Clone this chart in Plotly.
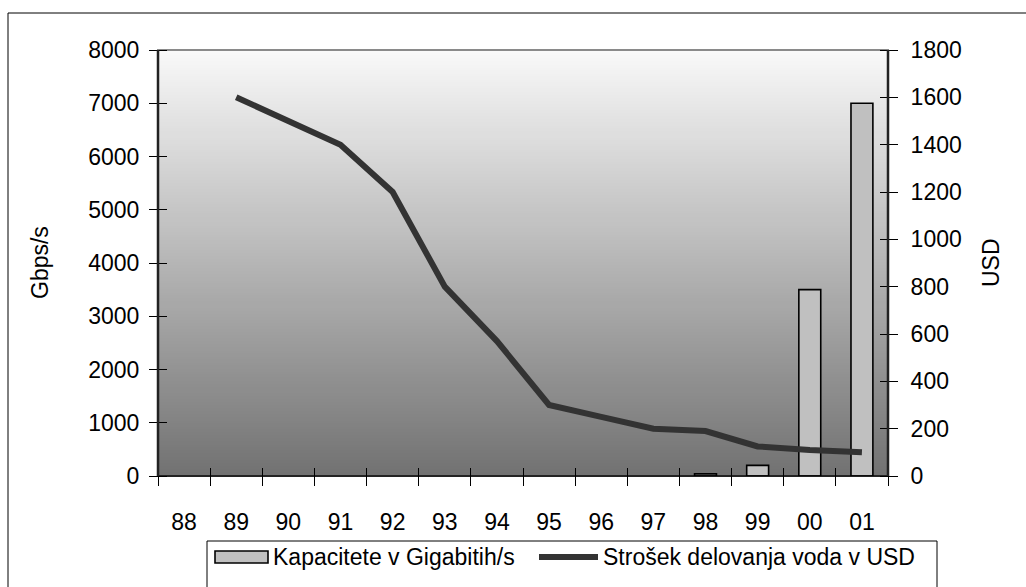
import plotly.graph_objects as go

# Years (two-digit labels) shown along the category axis
years = ["88", "89", "90", "91", "92", "93", "94", "95", "96", "97", "98", "99", "00", "01"]

# Capacity in Gbps/s (left axis) - only the last years carry a bar
capacity = [None, None, None, None, None, None, None, None, None, None, 40, 200, 3500, 7000]

# Line operating cost in USD (right axis)
cost_usd = [None, 1600, 1500, 1400, 1200, 800, 570, 300, 250, 200, 190, 125, 110, 100]

left_ticks = [0, 1000, 2000, 3000, 4000, 5000, 6000, 7000, 8000]
right_ticks = [0, 200, 400, 600, 800, 1000, 1200, 1400, 1600, 1800]

bar_name = "Kapacitete v Gigabitih/s"
line_name = "Strošek delovanja voda v USD"
left_title = "Gbps/s"
right_title = "USD"

FONT = "Liberation Sans, Arial, sans-serif"
FS = 23

W, H = 1026, 587
ML, MR, MT, MB = 158, 138, 50, 111
PW, PH = W - ML - MR, H - MT - MB
TICK_HALF = 9  # ticks cross each axis line by this many pixels on each side


def px(x):
    return (x - ML) / PW


def py(y):
    return (H - MB - y) / PH


fig = go.Figure()

fig.add_trace(go.Bar(
    x=years, y=capacity, name=bar_name,
    marker=dict(color="#c0c0c0", line=dict(color="#000000", width=1.6)),
    yaxis="y", showlegend=False,
))

fig.add_trace(go.Scatter(
    x=years, y=cost_usd, name=line_name, mode="lines",
    line=dict(color="#333333", width=6),
    yaxis="y2", showlegend=False,
))

shapes = []

# vertical grey gradient behind the plot area
n_strips = 140
top_c, bot_c = 249, 114
for i in range(n_strips):
    t = (i + 0.5) / n_strips
    c = round(top_c + (bot_c - top_c) * t)
    shapes.append(dict(
        type="rect", xref="x domain", yref="y domain", layer="below",
        x0=0, x1=1, y0=1 - (i + 1) / n_strips, y1=1 - i / n_strips + 0.002,
        fillcolor=f"rgb({c},{c},{c})", line=dict(width=0),
    ))

# plot-area border (top edge shows in grey)
shapes.append(dict(type="rect", xref="x domain", yref="y domain", layer="below",
                   x0=0, x1=1, y0=0, y1=1, line=dict(color="#8a8a8a", width=2)))

# axis lines along the plot-area edges
shapes.append(dict(type="line", xref="x domain", yref="y domain",
                   x0=0, x1=1, y0=0, y1=0, line=dict(color="#000000", width=1.5)))
shapes.append(dict(type="line", xref="x domain", yref="y domain",
                   x0=0, x1=0, y0=0, y1=1, line=dict(color="#222222", width=2.5)))
shapes.append(dict(type="line", xref="x domain", yref="y domain",
                   x0=1, x1=1, y0=0, y1=1, line=dict(color="#222222", width=2.5)))

# outer chart frame
shapes.append(dict(type="rect", xref="paper", yref="paper",
                   x0=px(8), x1=px(1040), y0=py(13), y1=py(620),
                   line=dict(color="#000000", width=1)))

# legend box and its symbols
shapes.append(dict(type="rect", xref="paper", yref="paper",
                   x0=px(207), x1=px(937), y0=py(541), y1=py(620),
                   line=dict(color="#000000", width=1), fillcolor="white"))
shapes.append(dict(type="rect", xref="paper", yref="paper",
                   x0=px(215), x1=px(268), y0=py(551), y1=py(563),
                   fillcolor="#c0c0c0", line=dict(color="#000000", width=1.6)))
shapes.append(dict(type="line", xref="paper", yref="paper",
                   x0=px(539), x1=px(598), y0=py(557), y1=py(557),
                   line=dict(color="#333333", width=6)))

annotations = [
    dict(text=bar_name, xref="paper", yref="paper", x=px(271), y=py(557),
         xanchor="left", yanchor="middle", showarrow=False,
         font=dict(family=FONT, size=FS, color="#000")),
    dict(text=line_name, xref="paper", yref="paper", x=px(601), y=py(557),
         xanchor="left", yanchor="middle", showarrow=False,
         font=dict(family=FONT, size=FS, color="#000")),
    dict(text=left_title, xref="paper", yref="paper", x=px(40), y=0.5,
         textangle=-90, xanchor="center", yanchor="middle", showarrow=False,
         font=dict(family=FONT, size=FS, color="#000")),
    dict(text=right_title, xref="paper", yref="paper", x=px(991), y=0.5,
         textangle=-90, xanchor="center", yanchor="middle", showarrow=False,
         font=dict(family=FONT, size=FS, color="#000")),
]

tick_font = dict(family=FONT, size=FS, color="#000")

fig.update_layout(
    width=W, height=H,
    margin=dict(l=ML, r=MR, t=MT, b=MB, pad=0),
    paper_bgcolor="white", plot_bgcolor="rgba(0,0,0,0)",
    bargap=0.58,
    shapes=shapes, annotations=annotations,
    showlegend=False,
    xaxis=dict(
        type="category", categoryorder="array", categoryarray=years,
        range=[-0.5, len(years) - 0.5],
        anchor="free", position=TICK_HALF / PH,
        tickson="boundaries", ticks="outside", ticklen=2 * TICK_HALF, tickwidth=1,
        tickcolor="#000",
        showline=False, showgrid=False, zeroline=False,
        tickfont=tick_font, ticklabelstandoff=39,
    ),
    yaxis=dict(
        range=[0, 8000], tickmode="array", tickvals=left_ticks,
        anchor="free", position=TICK_HALF / PW,
        ticks="outside", ticklen=2 * TICK_HALF, tickwidth=1, tickcolor="#000",
        showline=False, showgrid=False, zeroline=False,
        tickfont=tick_font, ticklabelstandoff=5,
    ),
    yaxis2=dict(
        overlaying="y", side="right",
        anchor="free", position=1 - TICK_HALF / PW,
        range=[0, 1800], tickmode="array", tickvals=right_ticks,
        ticks="outside", ticklen=2 * TICK_HALF, tickwidth=1, tickcolor="#000",
        showline=False, showgrid=False, zeroline=False,
        tickfont=tick_font, ticklabelstandoff=8,
    ),
)

fig.write_html("out.html")
